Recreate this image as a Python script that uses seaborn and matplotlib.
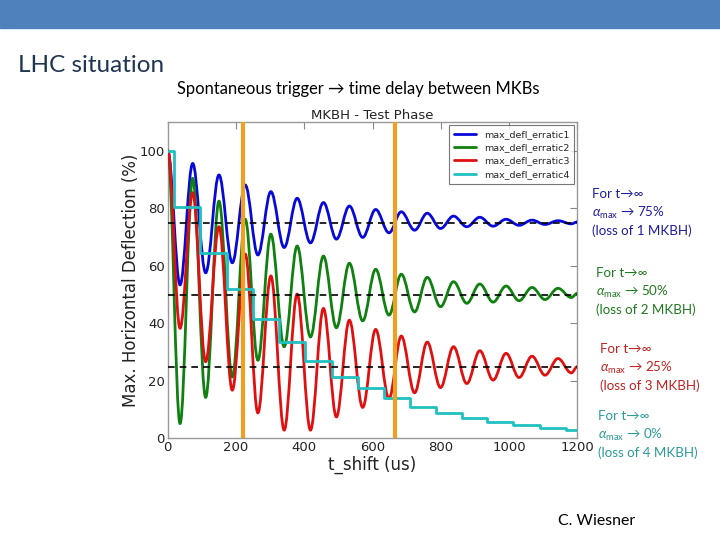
#!/usr/bin/env python3
#
# LHC situation - MKBH erratic deflection vs time shift
#
import numpy as np
import matplotlib
matplotlib.use('Agg')
import matplotlib.pyplot as plt
import seaborn as sns
import pandas as pd
from matplotlib.path import Path
from matplotlib.patches import PathPatch, Rectangle
from matplotlib.lines import Line2D

# Extremum times (us) shared by the oscillating curves
ext_t = [0, 36, 73, 111, 150, 189, 227, 264, 302, 341, 379, 418, 456, 494,
         532, 571, 609, 648, 684, 723, 760, 799, 837, 876, 914, 953, 991,
         1029, 1067, 1105, 1143, 1182, 1200]

# Deflection (%) at each extremum
erratic1 = [100, 53.4, 95.6, 57.6, 91.6, 61.1, 88.1, 63.8, 85.8, 66.4,
            83.5, 68.0, 82.0, 69.3, 80.8, 69.9, 79.6, 71.5, 78.8, 72.4,
            78.3, 73.0, 77.3, 73.6, 76.9, 73.8, 76.2, 74.1, 75.9, 74.4,
            75.7, 74.6, 75.3]
erratic2 = [100, 5.2, 90.4, 14.3, 82.5, 21.4, 76.2, 27.2, 71.0, 31.9,
            66.9, 35.3, 63.4, 38.5, 60.9, 40.9, 58.8, 42.9, 57.1, 44.0,
            56.0, 45.8, 54.5, 47.0, 53.7, 47.4, 53.0, 47.9, 52.5, 48.3,
            52.2, 49.0, 50.5]
erratic3 = [100, 38.3, 85.4, 26.7, 73.6, 16.8, 64.1, 8.9, 56.5, 2.9,
            50.2, 2.9, 45.2, 7.5, 41.1, 10.8, 37.9, 13.9, 35.6, 15.9,
            33.5, 17.7, 31.9, 19.1, 30.5, 20.3, 29.6, 21.2, 28.6, 22.0,
            27.8, 22.8, 25.0]

# Staircase curve (erratic4)
step_t = [0, 18, 95, 173, 250, 325, 401, 480, 556, 632, 709, 785, 861, 935,
          1011, 1090, 1166, 1200]
erratic4 = [100, 80.5, 64.5, 52.0, 41.6, 33.5, 26.9, 21.4, 17.4, 13.9, 11.0,
            8.9, 7.2, 5.8, 4.6, 3.8, 3.1, 3.1]

names = ['max_defl_erratic1', 'max_defl_erratic2', 'max_defl_erratic3',
         'max_defl_erratic4']
colors = ['#0808d8', '#108010', '#e01010', '#20c0c0']

asymptotes = [75, 50, 25]
markers_t = [220, 665]

alpha_max = r'$\alpha_{\rm max}$'
notes = [
    ['For t\u2192\u221e', alpha_max + ' \u2192 75%', '(loss of 1 MKBH)'],
    ['For t\u2192\u221e', alpha_max + ' \u2192 50%', '(loss of 2 MKBH)'],
    ['For t\u2192\u221e', alpha_max + ' \u2192 25%', '(loss of 3 MKBH)'],
    ['For t\u2192\u221e', alpha_max + ' \u2192 0%', '(loss of 4 MKBH)'],
]
note_colors = ['#1c1ca0', '#1f7a1f', '#c42020', '#2a9a9a']


def wave_path(ts, vs, k=0.364):
    # Smooth cubic segments between consecutive extrema
    verts = [(ts[0], vs[0])]
    codes = [Path.MOVETO]
    for i in range(1, len(ts)):
        dt = ts[i] - ts[i - 1]
        verts += [(ts[i - 1] + k * dt, vs[i - 1]),
                  (ts[i] - k * dt, vs[i]),
                  (ts[i], vs[i])]
        codes += [Path.CURVE4] * 3
    return Path(verts, codes)


sns.set_style('white')
plt.rcParams['font.family'] = ['DejaVu Sans']
plt.rcParams['mathtext.fontset'] = 'custom'
plt.rcParams['mathtext.rm'] = 'Lato'
plt.rcParams['mathtext.it'] = 'Lato:italic'

fig = plt.figure(figsize=(7.2, 5.4), dpi=100)
ax = fig.add_axes([0.233, 0.188, 0.569, 0.586])

# Slide header bar
fig.patches.append(Rectangle((0, 0.948), 1, 0.052, transform=fig.transFigure,
                             color='#4f81bd', zorder=0))

for vals, c in zip([erratic1, erratic2, erratic3], colors[:3]):
    ax.add_patch(PathPatch(wave_path(ext_t, vals), fill=False, edgecolor=c,
                           lw=2, zorder=3))

df4 = pd.DataFrame({'t': step_t, 'v': erratic4})
sns.lineplot(data=df4, x='t', y='v', ax=ax, color=colors[3], lw=2,
             drawstyle='steps-post', zorder=4)

for a in asymptotes:
    ax.axhline(a, color='k', ls='--', lw=1.2, dashes=(4, 3), zorder=5)
for m in markers_t:
    ax.axvline(m, color='#f0a020', lw=3, zorder=6)

ax.set_xlim(0, 1200)
ax.set_ylim(0, 110)
ax.set_xticks(range(0, 1201, 200))
ax.set_yticks(range(0, 101, 20))
ax.tick_params(direction='in', top=True, right=True, length=5, width=0.8,
               color='#888888', labelsize=9.5, labelcolor='#222222', pad=2)
for s in ax.spines.values():
    s.set_color('#999999')
    s.set_linewidth(1)
ax.set_xlabel('t_shift (us)', fontsize=12, color='#222222', labelpad=1)
ax.set_ylabel('Max. Horizontal Deflection (%)', fontsize=12, color='#222222',
              labelpad=0)
ax.set_title('MKBH - Test Phase', fontsize=9.5, color='#222222', pad=2)

handles = [Line2D([], [], color=c, lw=2) for c in colors]
leg = ax.legend(handles, names, loc='upper right', fontsize=6.8,
                handlelength=2.4, frameon=True, fancybox=False,
                borderaxespad=0.35, labelspacing=0.45, borderpad=0.5)
leg.get_frame().set_edgecolor('#555555')
leg.get_frame().set_linewidth(0.8)

# Slide texts
fig.text(18 / 720, 1 - 66 / 540, 'LHC situation', fontsize=17.5,
         family='Lato', color='#1f3552', va='center', ha='left')
fig.text(177 / 720, 1 - 89 / 540,
         'Spontaneous trigger \u2192 time delay between MKBs', fontsize=11.9,
         family='Lato', color='black', va='center', ha='left')
fig.text(558 / 720, 1 - 521 / 540, 'C. Wiesner', fontsize=11.4,
         family='Lato', color='black', va='center', ha='left')

note_pos = [(592, 194), (596, 273), (600, 349), (598, 416)]
for (x, y), lines, c in zip(note_pos, notes, note_colors):
    for j, line in enumerate(lines):
        fig.text(x / 720, 1 - (y + j * 18.5) / 540, line, fontsize=9.6,
                 family='Lato', color=c, va='center', ha='left')

fig.savefig('out.png', dpi=100)
